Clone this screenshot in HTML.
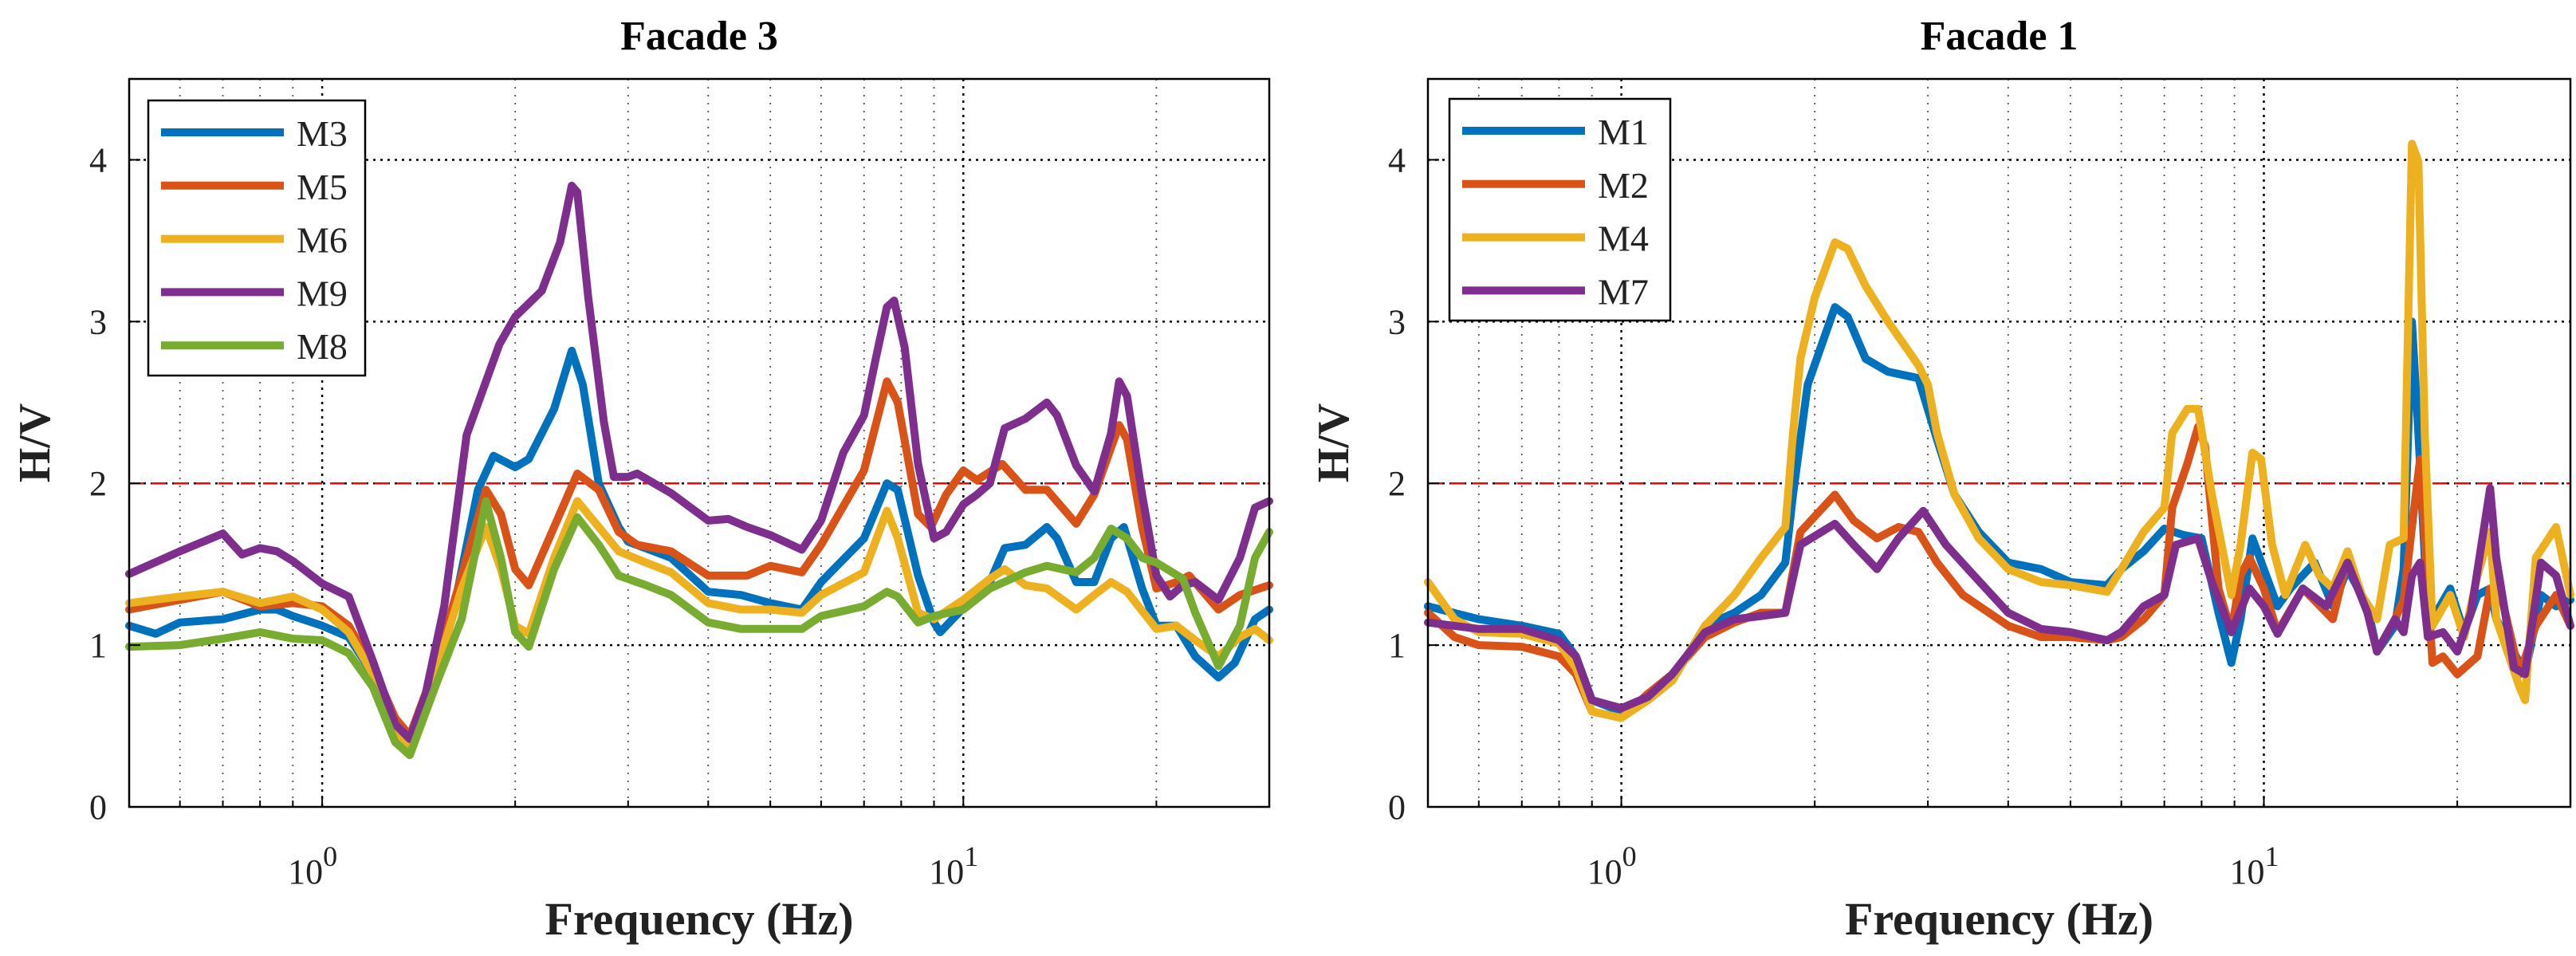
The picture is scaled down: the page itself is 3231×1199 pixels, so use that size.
<!DOCTYPE html>
<html><head><meta charset="utf-8"><style>
html,body{margin:0;padding:0;background:#fff;}
svg{display:block;font-family:"Liberation Serif",serif;}
</style></head><body>
<svg id="chart" width="3231" height="1199" viewBox="0 0 3231 1199" xmlns="http://www.w3.org/2000/svg"></svg>
<script>
// ---------- Data: Facade 3 ----------
const f3_M3_f=[0.5,0.55,0.6,0.7,0.8,0.85,0.9,1.0,1.1,1.2,1.3,1.37,1.5,1.6,1.75,1.85,2.0,2.1,2.3,2.45,2.55,2.7,2.9,3.0,3.5,4.0,4.5,5.0,5.6,6,7,7.6,7.9,8.5,9.0,9.2,10,11,11.6,12.5,13.5,14,15,16,17,17.8,19,20,21.5,23,25,26.5,28.5,30];
const f3_M3_v=[1.12,1.07,1.14,1.16,1.22,1.22,1.18,1.12,1.05,0.82,0.47,0.38,0.86,1.2,1.96,2.17,2.1,2.15,2.46,2.82,2.61,2.0,1.73,1.64,1.54,1.33,1.31,1.26,1.22,1.39,1.66,2.0,1.96,1.43,1.14,1.08,1.23,1.39,1.6,1.62,1.73,1.66,1.39,1.39,1.66,1.73,1.35,1.12,1.12,0.93,0.80,0.89,1.16,1.22];
const f3_M5_f=[0.5,0.6,0.7,0.8,0.9,1.0,1.1,1.2,1.3,1.37,1.5,1.65,1.8,1.9,2.0,2.1,2.3,2.5,2.7,2.9,3.1,3.5,4.0,4.6,5.0,5.6,6.0,7.0,7.6,7.9,8.5,8.9,9.4,10,10.5,11.5,12.5,13.5,15,16,17.5,18,19,20,21.5,22.5,25,27,30];
const f3_M5_v=[1.22,1.28,1.33,1.24,1.26,1.24,1.12,0.86,0.55,0.44,0.86,1.43,1.96,1.81,1.47,1.37,1.73,2.06,1.96,1.70,1.62,1.58,1.43,1.43,1.49,1.45,1.62,2.08,2.63,2.5,1.81,1.73,1.93,2.08,2.02,2.12,1.96,1.96,1.75,1.93,2.36,2.27,1.73,1.35,1.39,1.43,1.22,1.31,1.37];
const f3_M6_f=[0.5,0.6,0.7,0.8,0.9,1.0,1.1,1.2,1.3,1.37,1.5,1.65,1.8,1.9,2.0,2.1,2.3,2.5,2.7,2.9,3.2,3.5,4.0,4.5,5.0,5.6,6.0,7.0,7.6,7.9,8.5,9.0,10,11,11.6,12.5,13.5,15,16,17,18,20,21.5,23,25,27,28.5,30];
const f3_M6_v=[1.26,1.30,1.33,1.26,1.30,1.22,1.08,0.82,0.47,0.38,0.82,1.35,1.73,1.47,1.12,1.07,1.54,1.89,1.73,1.58,1.51,1.45,1.26,1.22,1.22,1.20,1.31,1.45,1.83,1.66,1.20,1.16,1.28,1.41,1.47,1.37,1.35,1.22,1.31,1.39,1.33,1.10,1.12,1.03,0.93,1.05,1.10,1.03];
const f3_M9_f=[0.5,0.6,0.7,0.75,0.8,0.85,0.9,1.0,1.1,1.2,1.3,1.37,1.45,1.55,1.68,1.89,2.0,2.2,2.35,2.45,2.5,2.6,2.75,2.85,3.0,3.1,3.5,4.0,4.3,4.6,5.0,5.6,6,6.5,7,7.3,7.6,7.8,8.1,8.5,9.0,9.4,10,10.5,11,11.6,12.5,13.5,14,15,16,17,17.5,18,19,20,21,22,23,25,27,28.5,30];
const f3_M9_v=[1.44,1.58,1.69,1.56,1.6,1.58,1.52,1.38,1.30,0.9,0.51,0.42,0.70,1.24,2.3,2.86,3.03,3.19,3.49,3.84,3.8,3.15,2.38,2.04,2.04,2.06,1.94,1.77,1.78,1.73,1.68,1.59,1.77,2.19,2.42,2.77,3.09,3.13,2.84,2.12,1.66,1.70,1.87,1.93,2.0,2.34,2.40,2.50,2.42,2.11,1.95,2.31,2.63,2.54,1.93,1.43,1.30,1.37,1.39,1.28,1.54,1.85,1.89];
const f3_M8_f=[0.5,0.6,0.7,0.8,0.9,1.0,1.1,1.2,1.3,1.37,1.5,1.65,1.8,1.9,2.0,2.1,2.3,2.5,2.7,2.9,3.2,3.5,4.0,4.5,5.0,5.6,6.0,7.0,7.6,7.9,8.5,9.0,10,11,12.5,13.5,15,16,17,18,19,20,22,23,25,27,28.5,30];
const f3_M8_v=[0.99,1.0,1.04,1.08,1.04,1.03,0.95,0.74,0.40,0.32,0.74,1.16,1.89,1.54,1.08,0.99,1.47,1.79,1.62,1.43,1.37,1.31,1.14,1.10,1.10,1.10,1.18,1.24,1.33,1.30,1.14,1.18,1.22,1.35,1.45,1.49,1.45,1.54,1.72,1.66,1.54,1.51,1.41,1.20,0.87,1.12,1.54,1.70];

// ---------- Data: Facade 1 ----------
const f1_M1_f=[0.5,0.6,0.7,0.8,0.85,0.9,1.0,1.1,1.2,1.35,1.5,1.65,1.8,1.85,1.95,2.15,2.25,2.4,2.6,2.9,3.1,3.3,3.6,4.0,4.5,5,5.7,6.0,6.5,7.0,7.5,8.0,8.5,8.9,9.2,9.6,10,10.5,11,12,12.8,13.5,14.5,15,16,16.5,17,17.4,17.8,18.3,19.5,20.5,21.5,22.5,23,25,25.5,27,28.5,30];
const f1_M1_v=[1.24,1.16,1.12,1.07,0.93,0.66,0.59,0.66,0.78,1.12,1.20,1.31,1.51,1.93,2.61,3.09,3.03,2.77,2.69,2.65,2.27,1.93,1.70,1.51,1.47,1.39,1.37,1.47,1.58,1.72,1.68,1.66,1.20,0.89,1.16,1.66,1.47,1.24,1.35,1.51,1.24,1.47,1.24,0.96,1.12,1.47,3.0,2.31,1.54,1.16,1.35,1.08,1.31,1.35,1.16,0.89,0.82,1.31,1.24,1.28];
const f1_M2_f=[0.5,0.55,0.6,0.7,0.8,0.85,0.9,1.0,1.1,1.2,1.35,1.5,1.65,1.8,1.9,2.15,2.3,2.5,2.7,2.9,3.1,3.4,4.0,4.5,5,5.7,6.0,6.5,7.0,7.2,7.6,7.9,8.1,8.5,8.9,9.2,9.5,10,10.5,11.5,12.8,13.5,14.5,15,16,16.5,17,17.5,18,18.3,19,20,21.5,22.5,23.5,25,26.5,28.5,30];
const f1_M2_v=[1.20,1.05,1.0,0.99,0.93,0.82,0.59,0.55,0.70,0.82,1.05,1.14,1.20,1.20,1.70,1.93,1.77,1.66,1.73,1.70,1.51,1.31,1.12,1.05,1.05,1.03,1.05,1.16,1.31,1.85,2.12,2.35,2.23,1.35,1.08,1.43,1.54,1.35,1.08,1.35,1.16,1.54,1.20,0.96,1.16,1.28,1.73,2.15,1.35,0.89,0.93,0.82,0.93,1.35,1.28,0.82,1.12,1.31,1.12];
const f1_M4_f=[0.5,0.55,0.6,0.7,0.8,0.85,0.9,1.0,1.1,1.2,1.35,1.5,1.65,1.8,1.85,1.9,2.0,2.15,2.25,2.4,2.6,2.9,3.0,3.1,3.3,3.6,4.0,4.5,5.0,5.7,6.0,6.5,7.0,7.2,7.6,7.9,8.3,8.9,9.2,9.6,9.9,10.3,10.8,11.6,12.2,12.8,13.5,14.2,15,15.7,16.5,17,17.4,17.8,18.3,19.5,20.5,21.5,22.5,23,25,25.5,26.5,28.5,30];
const f1_M4_v=[1.39,1.16,1.08,1.07,1.01,0.86,0.59,0.55,0.66,0.78,1.12,1.31,1.54,1.73,2.31,2.77,3.15,3.49,3.45,3.22,3.0,2.73,2.61,2.31,1.93,1.66,1.47,1.39,1.37,1.33,1.47,1.70,1.85,2.31,2.46,2.46,1.93,1.31,1.62,2.19,2.15,1.62,1.31,1.62,1.43,1.35,1.58,1.31,1.16,1.62,1.66,4.1,3.99,2.31,1.12,1.31,1.05,1.43,1.70,1.16,0.74,0.66,1.54,1.73,1.31];
const f1_M7_f=[0.5,0.6,0.7,0.8,0.85,0.9,1.0,1.1,1.2,1.35,1.5,1.65,1.8,1.9,2.15,2.3,2.5,2.7,2.95,3.2,3.5,4.0,4.5,5,5.7,6.0,6.5,7.0,7.3,7.9,8.3,8.9,9.5,10,10.5,11.5,12.5,13.5,14.5,15,16,16.5,17,17.5,18,19,20,21,22.5,23,24.5,25.5,27,28.5,30];
const f1_M7_v=[1.14,1.1,1.1,1.03,0.93,0.66,0.61,0.68,0.82,1.08,1.16,1.18,1.20,1.62,1.75,1.62,1.47,1.66,1.83,1.62,1.45,1.20,1.10,1.08,1.03,1.08,1.24,1.31,1.62,1.66,1.39,1.08,1.35,1.24,1.07,1.35,1.24,1.51,1.20,0.96,1.16,1.08,1.43,1.51,1.05,1.08,0.96,1.20,1.97,1.54,0.86,0.82,1.51,1.43,1.12];

const yTicks=[0,1,2,3,4];
const xMajor=[1,10];
const xMinor=[0.6,0.7,0.8,0.9,2,3,4,5,6,7,8,9,20];
const refLevel=2;

const C={b:'#0072BD',o:'#D95319',y:'#EDB120',p:'#7E2F8E',g:'#77AC30'};
const NS='http://www.w3.org/2000/svg';
const svg=document.getElementById('chart');
function mk(tag,attrs,parent){const e=document.createElementNS(NS,tag);for(const k in attrs)e.setAttribute(k,attrs[k]);(parent||svg).appendChild(e);return e;}

function panel(p){
  const g=mk('g',{});
  
  
  const xs=f=>p.x0+(Math.log10(f)-Math.log10(0.5))/(Math.log10(30)-Math.log10(0.5))*(p.x1-p.x0);
  const ys=v=>p.y0+(4.5-v)/4.5*(p.y1-p.y0);
  yTicks.filter(t=>t>0).forEach(t=>{const l=mk('line',{x1:p.x0,x2:p.x1,y1:ys(t),y2:ys(t),stroke:'#000','stroke-width':2.5,'stroke-dasharray':'3 6'},g);
    });
  xMajor.forEach(t=>{const l=mk('line',{x1:xs(t),x2:xs(t),y1:p.y0,y2:p.y1,stroke:'#000','stroke-width':2.5,'stroke-dasharray':'3 6'},g);
    });
  xMinor.forEach(t=>{const l=mk('line',{x1:xs(t),x2:xs(t),y1:p.y0,y2:p.y1,stroke:'#555','stroke-width':1.8,'stroke-dasharray':'2 8'},g);
    });
  const rl=mk('line',{x1:p.x0,x2:p.x1,y1:ys(refLevel),y2:ys(refLevel),stroke:'#f00','stroke-width':2.5,'stroke-dasharray':'18 10'},g);
  
  p.series.forEach(s=>{
    const pts=s.f.map((f,i)=>xs(f).toFixed(1)+','+ys(s.v[i]).toFixed(1)).join(' ');
    const pl=mk('polyline',{points:pts,fill:'none',stroke:s.c,'stroke-width':10,'stroke-linejoin':'round','stroke-linecap':'round'},g);
    
  });
  const box=mk('rect',{x:p.x0,y:p.y0,width:p.x1-p.x0,height:p.y1-p.y0,fill:'none',stroke:'#000','stroke-width':2.5},g);
  
  yTicks.forEach(t=>{
    mk('line',{x1:p.x0,x2:p.x0+14,y1:ys(t),y2:ys(t),stroke:'#000','stroke-width':2},g);
    const tx=mk('text',{x:p.x0-28,y:ys(t)+15,'font-size':44,'text-anchor':'end',fill:'#222'},g);
    tx.textContent=t;
  });
  xMajor.forEach((t,i)=>{
    mk('line',{x1:xs(t),x2:xs(t),y1:p.y1,y2:p.y1-14,stroke:'#000','stroke-width':2},g);
    const tx=mk('text',{x:xs(t)-12,y:p.y1+96,'font-size':44,'text-anchor':'middle',fill:'#222'},g);
    tx.textContent='10';
    const sp=mk('tspan',{dy:-22,'font-size':36},tx);sp.textContent=String(i);
    
  });
  xMinor.forEach(t=>mk('line',{x1:xs(t),x2:xs(t),y1:p.y1,y2:p.y1-8,stroke:'#000','stroke-width':2},g));
  const ti=mk('text',{x:(p.x0+p.x1)/2,y:62,'font-size':52,'font-weight':'bold','text-anchor':'middle'},g);
  ti.textContent=p.title;
  const xl=mk('text',{x:(p.x0+p.x1)/2,y:1172,'font-size':58,'font-weight':'bold','text-anchor':'middle',fill:'#222'},g);
  xl.textContent='Frequency (Hz)';
  const cy=(p.y0+p.y1)/2;
  const yl=mk('text',{x:p.x0-100,y:cy,'font-size':56,'font-weight':'bold','text-anchor':'middle',fill:'#222',transform:`rotate(-90 ${p.x0-100} ${cy})`},g);
  yl.textContent='H/V';
  const L=p.leg;
  const lg=mk('g',{},g);
  
  mk('rect',{x:L.x,y:L.y,width:L.w,height:L.h,fill:'#fff',stroke:'#000','stroke-width':2.5},lg);
  p.series.forEach((s,i)=>{
    const yy=L.y+40+i*66.8;
    const ent=mk('g',{},lg);
    
    mk('line',{x1:L.x+16,x2:L.x+170,y1:yy,y2:yy,stroke:s.c,'stroke-width':10},ent);
    const t=mk('text',{x:L.x+186,y:yy+17,'font-size':46,fill:'#222'},ent);t.textContent=s.n;
  });
}

panel({name:'facade-3-chart',title:'Facade 3',x0:162,x1:1592,y0:99,y1:1012,
  leg:{x:186,y:126,w:272,h:345},
  series:[{n:'M3',f:f3_M3_f,v:f3_M3_v,c:C.b},{n:'M5',f:f3_M5_f,v:f3_M5_v,c:C.o},{n:'M6',f:f3_M6_f,v:f3_M6_v,c:C.y},{n:'M9',f:f3_M9_f,v:f3_M9_v,c:C.p},{n:'M8',f:f3_M8_f,v:f3_M8_v,c:C.g}]});
panel({name:'facade-1-chart',title:'Facade 1',x0:1791,x1:3224,y0:99,y1:1012,
  leg:{x:1818,y:124,w:277,h:278},
  series:[{n:'M1',f:f1_M1_f,v:f1_M1_v,c:C.b},{n:'M2',f:f1_M2_f,v:f1_M2_v,c:C.o},{n:'M4',f:f1_M4_f,v:f1_M4_v,c:C.y},{n:'M7',f:f1_M7_f,v:f1_M7_v,c:C.p}]});
</script>
</body></html>
